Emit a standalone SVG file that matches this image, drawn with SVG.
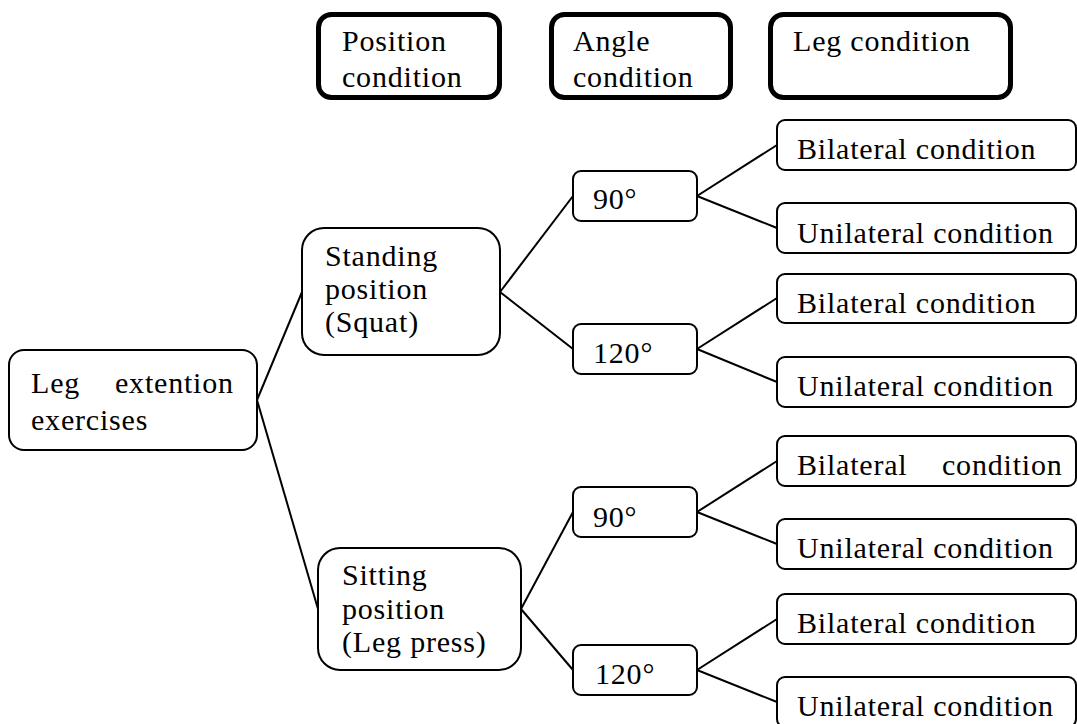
<svg xmlns="http://www.w3.org/2000/svg" width="1077" height="724" viewBox="0 0 1077 724" font-family="'Liberation Serif', 'Times New Roman', serif">
<style>
  text { font-family: 'Liberation Serif', 'Times New Roman', serif; font-size: 30px; letter-spacing: 0.8px; fill: #000; }
  .box { fill: #fff; stroke: #000; stroke-width: 2; }
  .hdr { fill: #fff; stroke: #000; stroke-width: 5; }
  .conn line { stroke: #000; stroke-width: 2; }
</style>
<rect width="1077" height="724" fill="#fff"/>
<g class="conn" id="connectors">
  <line x1="257" y1="400" x2="302" y2="292"/>
  <line x1="257" y1="400" x2="318" y2="609"/>
  <line x1="500" y1="292" x2="573" y2="196"/>
  <line x1="500" y1="292" x2="573" y2="349"/>
  <line x1="521" y1="609" x2="573" y2="512"/>
  <line x1="521" y1="609" x2="573" y2="670"/>
  <line x1="697" y1="196" x2="777" y2="145"/>
  <line x1="697" y1="196" x2="777" y2="228"/>
  <line x1="697" y1="349" x2="777" y2="298"/>
  <line x1="697" y1="349" x2="777" y2="382"/>
  <line x1="697" y1="512" x2="777" y2="461"/>
  <line x1="697" y1="512" x2="777" y2="544"/>
  <line x1="697" y1="670" x2="777" y2="619"/>
  <line x1="697" y1="670" x2="777" y2="702"/>
</g>
<g id="hdr-position">
  <rect class="hdr" x="318.5" y="14.5" width="181" height="83" rx="13"/>
  <text x="342" y="51">Position</text>
  <text x="342" y="87">condition</text>
</g>
<g id="hdr-angle">
  <rect class="hdr" x="551.5" y="14.5" width="179" height="83" rx="13"/>
  <text x="573" y="51">Angle</text>
  <text x="573" y="87">condition</text>
</g>
<g id="hdr-leg">
  <rect class="hdr" x="770.5" y="14.5" width="240" height="83" rx="13"/>
  <text x="793" y="51">Leg condition</text>
</g>
<g id="root">
  <rect class="box" x="9" y="350" width="248" height="100" rx="15"/>
  <text x="31" y="393">Leg</text>
  <text x="115" y="393">extention</text>
  <text x="31" y="430">exercises</text>
</g>
<g id="standing">
  <rect class="box" x="302" y="228" width="198" height="127" rx="22"/>
  <text x="325" y="266">Standing</text>
  <text x="325" y="299">position</text>
  <text x="325" y="332">(Squat)</text>
</g>
<g id="sitting">
  <rect class="box" x="318" y="548" width="203" height="122" rx="22"/>
  <text x="342" y="585">Sitting</text>
  <text x="342" y="619">position</text>
  <text x="342" y="652">(Leg press)</text>
</g>
<g id="a90-1">
  <rect class="box" x="573" y="171" width="124" height="50" rx="8"/>
  <text x="593" y="209">90°</text>
</g>
<g id="a120-1">
  <rect class="box" x="573" y="324" width="124" height="50" rx="8"/>
  <text x="593" y="363">120°</text>
</g>
<g id="a90-2">
  <rect class="box" x="573" y="487" width="124" height="50" rx="8"/>
  <text x="593" y="527">90°</text>
</g>
<g id="a120-2">
  <rect class="box" x="573" y="645" width="124" height="50" rx="8"/>
  <text x="595" y="684">120°</text>
</g>
<g id="b1">
  <rect class="box" x="777" y="120" width="299" height="50" rx="8"/>
  <text x="797" y="159">Bilateral condition</text>
</g>
<g id="u1">
  <rect class="box" x="777" y="203" width="299" height="50" rx="8"/>
  <text x="797" y="243">Unilateral condition</text>
</g>
<g id="b2">
  <rect class="box" x="777" y="274" width="299" height="49" rx="8"/>
  <text x="797" y="313">Bilateral condition</text>
</g>
<g id="u2">
  <rect class="box" x="777" y="357" width="299" height="50" rx="8"/>
  <text x="797" y="396">Unilateral condition</text>
</g>
<g id="b3">
  <rect class="box" x="777" y="436" width="299" height="50" rx="8"/>
  <text x="797" y="475">Bilateral</text>
  <text x="942" y="475">condition</text>
</g>
<g id="u3">
  <rect class="box" x="777" y="519" width="299" height="50" rx="8"/>
  <text x="797" y="558">Unilateral condition</text>
</g>
<g id="b4">
  <rect class="box" x="777" y="594" width="299" height="50" rx="8"/>
  <text x="797" y="633">Bilateral condition</text>
</g>
<g id="u4">
  <rect class="box" x="777" y="677" width="299" height="50" rx="8"/>
  <text x="797" y="716">Unilateral condition</text>
</g>
</svg>
